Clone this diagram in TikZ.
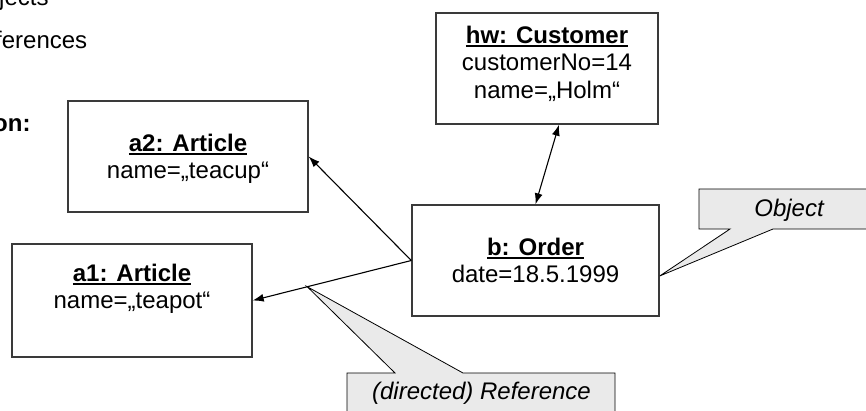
\documentclass[tikz,border=0pt]{standalone}
\usepackage{fontspec}
\setmainfont{Liberation Sans}
\usetikzlibrary{arrows.meta,calc}
\newsavebox\ulbox
% bold text with a heavy underline
\newcommand\ulbold[1]{\sbox\ulbox{\bfseries #1}\rlap{\rule[-4pt]{\wd\ulbox}{1.8pt}}\usebox\ulbox}
\definecolor{boxline}{HTML}{3A3A3A}
\definecolor{notefill}{HTML}{EAEAEA}
\begin{document}
\begin{tikzpicture}[x=1pt,y=-1pt,
  objbox/.style={draw=boxline,line width=1.4pt,fill=white,inner sep=0pt},
  line/.style={anchor=base,inner sep=0pt,font=\fontsize{24}{27.6}\selectfont},
  note/.style={anchor=base,inner sep=0pt,font=\fontsize{24}{27.6}\selectfont\itshape},
  link/.style={draw=black,line width=1.1pt,-{Latex[length=11pt,width=8pt]}},
  both/.style={draw=black,line width=1.1pt,{Latex[length=11pt,width=8pt]}-{Latex[length=11pt,width=8pt]}},
  callout/.style={draw=black,line width=0.8pt,fill=notefill}]
\useasboundingbox (0,0) rectangle (866,410);
\clip (0,0) rectangle (866,410);

% cut-off legend text at the left edge
\node[line,anchor=base west] (leg1) at (-1,5) {jects};
\node[line,anchor=base west] (leg2) at (-5,48) {ferences};
\node[line,anchor=base west,font=\fontsize{24}{27.6}\selectfont\bfseries] (leg3) at (-7,131) {on:};

% objects
\node[objbox,minimum width=222pt,minimum height=111pt] (hw) at (547,68.5) {};
\node[objbox,minimum width=240pt,minimum height=111pt] (a2) at (188,156.5) {};
\node[objbox,minimum width=240pt,minimum height=113pt] (a1) at (132,300.5) {};
\node[objbox,minimum width=247pt,minimum height=111pt] (b) at (535.5,260.5) {};

\node[line] (hwt) at (547,43) {\ulbold{hw: Customer}};
\node[line] (hwa) at (547,70.6) {customerNo=14};
\node[line] (hwb) at (547,98.2) {name=„Holm“};

\node[line] (a2t) at (188,151) {\ulbold{a2: Article}};
\node[line] (a2a) at (188,178.6) {name=„teacup“};

\node[line] (a1t) at (132,281) {\ulbold{a1: Article}};
\node[line] (a1a) at (132,308.6) {name=„teapot“};

\node[line] (bt) at (535.5,255) {\ulbold{b: Order}};
\node[line] (ba) at (535.5,282.6) {date=18.5.1999};

% links
\draw[link] (b.west) -- (a2.east);
\draw[link] (b.west) -- (a1.east);
\draw[both] (b.north) -- ([xshift=12pt]hw.south);

% callouts
\path (b.west) -- (a1.east) coordinate[pos=0.656] (reftip);
\coordinate (objtip) at ([yshift=-15.5pt]b.east);
\filldraw[callout] (699,189) -- (880,189) -- (880,229) -- (773,229) -- (objtip)
  -- (730,229) -- (699,229) -- cycle;
\node[note] (objlabel) at (789,216) {Object};

\filldraw[callout] (347,373) -- (395,373) -- (reftip) -- (463,373) -- (615,373)
  -- (615,420) -- (347,420) -- cycle;
\node[note] (reflabel) at (481.5,399) {(directed) Reference};
\end{tikzpicture}
\end{document}
